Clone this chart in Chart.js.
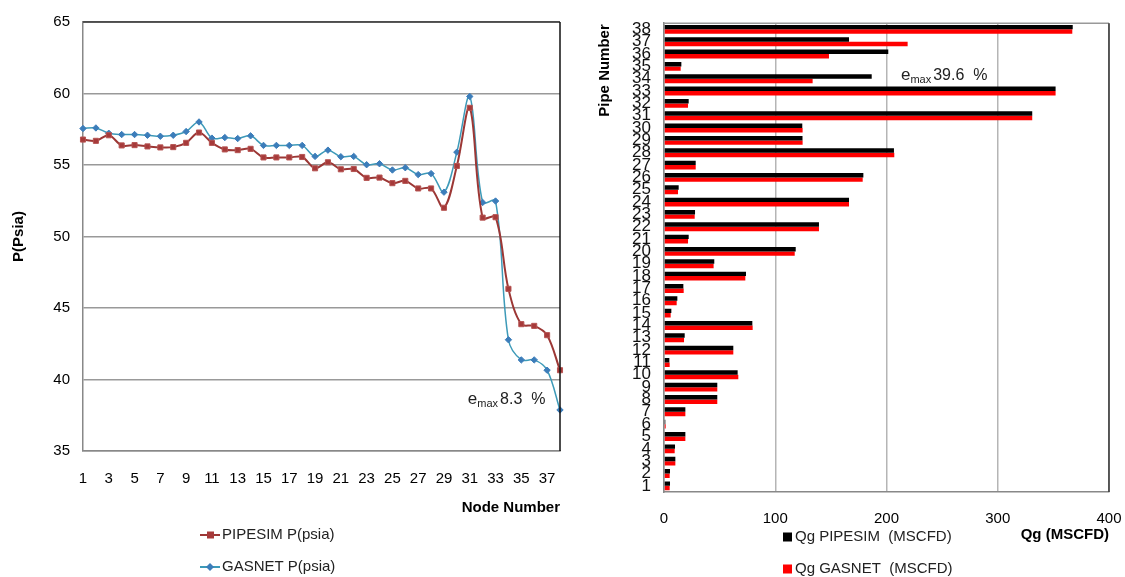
<!DOCTYPE html>
<html lang="en">
<head>
<meta charset="utf-8">
<title>Node pressure and pipe flow</title>
<script src="https://cdn.jsdelivr.net/npm/chart.js@4.4.0/dist/chart.umd.min.js"></script>
<style>
  html, body { margin: 0; padding: 0; background: #fff; }
  #wrap { position: relative; width: 1125px; height: 577px; overflow: hidden; }
  #pChart { position: absolute; left: 0; top: 0; }
  #qChart { position: absolute; left: 575px; top: 0; }
</style>
</head>
<body>
<div id="wrap">
  <canvas id="pChart" width="575" height="577"></canvas>
  <canvas id="qChart" width="550" height="577"></canvas>
</div>
<script>
// node / pipe numbers
const nodeNumbers = ['1','2','3','4','5','6','7','8','9','10','11','12','13','14','15','16','17','18','19',
  '20','21','22','23','24','25','26','27','28','29','30','31','32','33','34','35','36','37','38'];
const pipeNumbers = nodeNumbers.slice();

// pressure at each node (psia)
const pipesimP = [56.78, 56.69, 57.08, 56.37, 56.39, 56.30, 56.23, 56.25, 56.55, 57.27,
  56.55, 56.09, 56.04, 56.13, 55.53, 55.53, 55.53, 55.56, 54.77, 55.19,
  54.70, 54.72, 54.10, 54.12, 53.73, 53.89, 53.36, 53.36, 52.01, 54.93,
  59.00, 51.32, 51.35, 46.34, 43.87, 43.75, 43.10, 40.65];
const gasnetP = [57.55, 57.59, 57.22, 57.13, 57.13, 57.08, 57.01, 57.08, 57.34, 58.01,
  56.88, 56.92, 56.85, 57.04, 56.37, 56.37, 56.37, 56.37, 55.60, 56.04,
  55.58, 55.60, 55.02, 55.09, 54.65, 54.81, 54.33, 54.40, 53.10, 55.90,
  59.79, 52.38, 52.48, 42.78, 41.37, 41.37, 40.65, 37.87];

// gas flow in each pipe (MSCFD)
const pipesimQ = [5.4, 5.4, 10.2, 9.9, 19.2, 1.2, 19.2, 47.9, 47.9, 66.2,
  4.8, 62.3, 18.6, 79.4, 6.6, 12.0, 17.4, 73.7, 45.2, 118.4,
  22.2, 139.3, 27.9, 166.3, 13.2, 179.2, 28.5, 206.7, 124.5, 124.3,
  331.0, 22.2, 352.0, 186.7, 15.6, 201.6, 166.3, 367.4];
const gasnetQ = [5.1, 5.1, 10.2, 9.6, 19.2, 1.5, 19.2, 47.9, 47.9, 66.8,
  5.1, 62.3, 18.0, 79.7, 6.0, 11.4, 17.7, 73.1, 44.6, 117.5,
  21.6, 139.3, 27.6, 166.3, 12.6, 178.6, 28.5, 207.0, 124.6, 124.6,
  331.0, 21.6, 352.0, 133.6, 15.0, 148.3, 219.0, 367.0];

const pTicks = { min: 35, max: 65, step: 5 };
const qTicks = { min: 0, max: 400, step: 100 };

const FONT = "'Liberation Sans', Arial, sans-serif";
Chart.defaults.font.family = FONT;
Chart.defaults.color = '#000';

// fixed axis box, no extra room for edge labels
function fixBox(w, h) {
  return s => {
    if (w) s.width = w;
    if (h) s.height = h;
    s.paddingLeft = 0; s.paddingRight = 0;
  };
}

// top + right edge of the plot area
const frameLines = {
  id: 'frameLines',
  afterDraw(chart, args, opts) {
    let a = chart.chartArea, ctx = chart.ctx;
    ctx.save();
    ctx.lineWidth = 1.5;
    ctx.strokeStyle = opts.top || '#222';
    ctx.beginPath(); ctx.moveTo(a.left, a.top); ctx.lineTo(a.right, a.top); ctx.stroke();
    ctx.strokeStyle = opts.right || '#111';
    ctx.beginPath(); ctx.moveTo(a.right, a.top); ctx.lineTo(a.right, a.bottom); ctx.stroke();
    ctx.restore();
  }
};

// rotated axis title hanging from the top of the plot
const sideTitle = {
  id: 'sideTitle',
  afterDraw(chart, args, opts) {
    if (!opts.text) return;
    let ctx = chart.ctx;
    ctx.save();
    ctx.translate(opts.x, chart.chartArea.top + 1);
    ctx.rotate(-Math.PI / 2);
    ctx.font = 'bold 15px ' + FONT;
    ctx.fillStyle = '#000';
    ctx.textAlign = 'right';
    ctx.textBaseline = 'middle';
    ctx.fillText(opts.text, 0, 0);
    ctx.restore();
  }
};

// "e_max xx %" label, anchored on data values
const emaxLabel = {
  id: 'emaxLabel',
  afterDraw(chart, args, opts) {
    if (!opts.text) return;
    let ctx = chart.ctx;
    let x = chart.scales.x.getPixelForValue(opts.x);
    let y = chart.scales.y.getPixelForValue(opts.y);
    ctx.save();
    ctx.fillStyle = '#222';
    ctx.textBaseline = 'alphabetic';
    ctx.textAlign = 'left';
    ctx.font = '17px ' + FONT;
    ctx.fillText('e', x, y);
    x += ctx.measureText('e').width;
    ctx.font = '11px ' + FONT;
    ctx.fillText('max', x, y + 3);
    x += ctx.measureText('max').width + 2;
    ctx.font = '16px ' + FONT;
    ctx.fillText(opts.text, x, y);
    ctx.restore();
  }
};

// stacked legend drawn under the plot
const stackLegend = {
  id: 'stackLegend',
  afterDraw(chart, args, opts) {
    let ctx = chart.ctx;
    ctx.save();
    ctx.font = '15px ' + FONT;
    ctx.textBaseline = 'middle';
    chart.data.datasets.forEach((ds, i) => {
      let x = opts.x, y = opts.y + i * opts.gap;
      if (opts.kind == 'line') {
        ctx.strokeStyle = ds.borderColor;
        ctx.lineWidth = 2;
        ctx.beginPath(); ctx.moveTo(x, y); ctx.lineTo(x + 20, y); ctx.stroke();
        ctx.fillStyle = ds.pointBackgroundColor;
        if (ds.pointStyle == 'rect') {
          ctx.fillRect(x + 7, y - 3.5, 7, 7);
        } else {
          ctx.beginPath();
          ctx.moveTo(x + 10, y - 4); ctx.lineTo(x + 14, y); ctx.lineTo(x + 10, y + 4); ctx.lineTo(x + 6, y);
          ctx.closePath(); ctx.fill();
        }
        ctx.fillStyle = '#222';
        ctx.fillText(ds.label, x + 22, y);
      } else {
        ctx.fillStyle = ds.backgroundColor;
        ctx.fillRect(x, y - 4.5, 9, 9);
        ctx.fillStyle = '#222';
        ctx.fillText(ds.label, x + 12, y);
      }
    });
    ctx.restore();
  }
};

// left: pressure along the nodes
new Chart(document.getElementById('pChart'), {
  type: 'line',
  data: {
    labels: nodeNumbers,
    datasets: [
      {
        label: 'PIPESIM P(psia)',
        data: pipesimP,
        borderColor: '#9C3735',
        borderWidth: 2,
        pointStyle: 'rect',
        pointRadius: 3.6,
        pointBackgroundColor: '#A63A3A',
        pointBorderColor: '#B65452',
        pointBorderWidth: 1,
        tension: 0.35
      },
      {
        label: 'GASNET P(psia)',
        data: gasnetP,
        borderColor: '#3D9AB8',
        borderWidth: 1.5,
        pointStyle: 'rectRot',
        pointRadius: 3.2,
        pointBackgroundColor: '#3C7DBA',
        pointBorderColor: '#3C7DBA',
        pointBorderWidth: 1,
        tension: 0.35
      }
    ]
  },
  options: {
    responsive: false,
    animation: false,
    layout: { padding: { left: 0, right: 15, top: 20, bottom: 60 } },
    scales: {
      x: {
        offset: false,
        grid: { display: false, drawTicks: false },
        border: { color: '#888', width: 1.5 },
        ticks: {
          autoSkip: false, maxRotation: 0, padding: 19,
          font: { size: 15 },
          callback: function(v, i) { return i % 2 == 0 ? this.getLabelForValue(v) : ''; }
        },
        title: { display: true, text: 'Node Number', align: 'end', font: { size: 15, weight: 'bold' }, padding: { top: 0, bottom: 0 } },
        afterFit: fixBox(0, 66)
      },
      y: {
        min: pTicks.min, max: pTicks.max,
        grid: { color: '#999', lineWidth: 1.5, drawTicks: false },
        border: { color: '#888', width: 1.5 },
        ticks: { stepSize: pTicks.step, padding: 13, font: { size: 15 } },
        title: { display: true, text: 'P(Psia)', font: { size: 15, weight: 'bold' }, padding: { top: 10, bottom: 0 } },
        afterFit: fixBox(83, 0)
      }
    },
    plugins: {
      legend: { display: false },
      tooltip: { enabled: false },
      frameLines: { top: '#333', right: '#111' },
      emaxLabel: { text: '8.3  %', x: 29.85, y: 38.3 },
      stackLegend: { kind: 'line', x: 200, y: 535, gap: 32 }
    }
  },
  plugins: [frameLines, emaxLabel, stackLegend]
});

// right: flow in each pipe
new Chart(document.getElementById('qChart'), {
  type: 'bar',
  data: {
    labels: pipeNumbers,
    datasets: [
      { label: 'Qg PIPESIM  (MSCFD)', data: pipesimQ, backgroundColor: '#000' },
      { label: 'Qg GASNET  (MSCFD)', data: gasnetQ, backgroundColor: '#FF0000' }
    ]
  },
  options: {
    indexAxis: 'y',
    responsive: false,
    animation: false,
    layout: { padding: { left: 0, right: 16, top: 22, bottom: 33 } },
    datasets: { bar: { barPercentage: 1, categoryPercentage: 0.72 } },
    scales: {
      x: {
        min: qTicks.min, max: qTicks.max,
        grid: { color: '#B5B5B5', lineWidth: 1.5, drawTicks: false },
        border: { color: '#888', width: 1.5 },
        ticks: { stepSize: qTicks.step, padding: 18, font: { size: 15 } },
        title: { display: true, text: 'Qg (MSCFD)', align: 'end', font: { size: 15, weight: 'bold' }, padding: { top: 0, bottom: 0 } },
        afterFit: fixBox(0, 52)
      },
      y: {
        reverse: true,
        grid: { display: false, drawTicks: false },
        border: { color: '#888', width: 1.5 },
        ticks: { autoSkip: false, padding: 13, font: { size: 17 }, color: '#111' },
        afterFit: fixBox(89, 0)
      }
    },
    plugins: {
      legend: { display: false },
      tooltip: { enabled: false },
      frameLines: { top: '#999', right: '#333' },
      sideTitle: { text: 'Pipe Number', x: 30 },
      emaxLabel: { text: '39.6  %', x: 213, y: 32.9 },
      stackLegend: { kind: 'box', x: 208, y: 537, gap: 32 }
    }
  },
  plugins: [frameLines, sideTitle, emaxLabel, stackLegend]
});
</script>
</body>
</html>
